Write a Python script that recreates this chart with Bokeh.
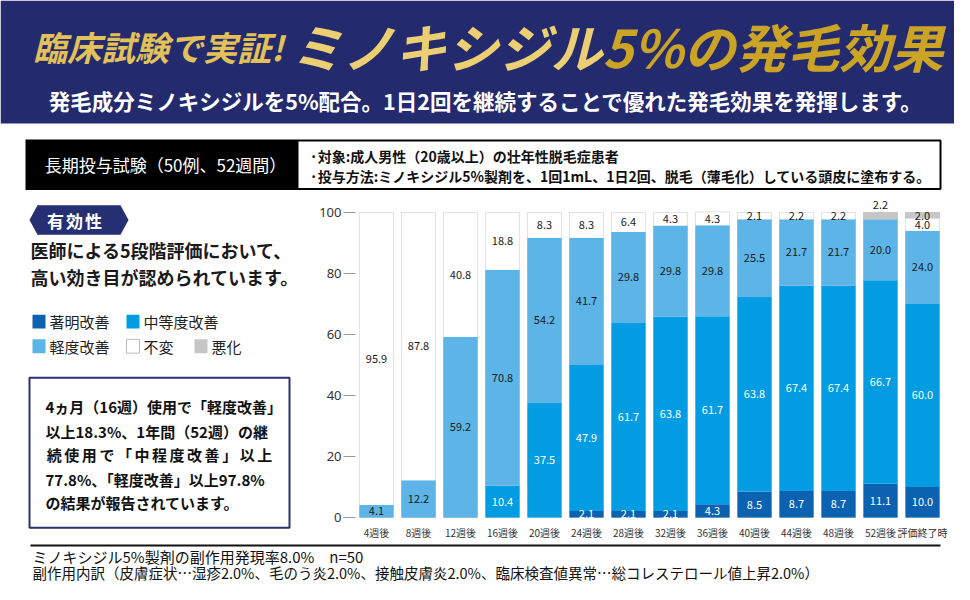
from bokeh.plotting import figure
from bokeh.layouts import column, row
from bokeh.models import Range1d, FactorRange, FixedTicker, Label
from bokeh.core.properties import value
from bokeh.embed import file_html
from bokeh.resources import INLINE

JP = "Noto Sans CJK JP"

# ---------------- data ----------------
categories = ["4週後", "8週後", "12週後", "16週後", "20週後", "24週後", "28週後",
              "32週後", "36週後", "40週後", "44週後", "48週後", "52週後", "評価終了時"]
marked = [0, 0, 0, 0, 0, 2.1, 2.1, 2.1, 4.3, 8.5, 8.7, 8.7, 11.1, 10.0]
moderate = [0, 0, 0, 10.4, 37.5, 47.9, 61.7, 63.8, 61.7, 63.8, 67.4, 67.4, 66.7, 60.0]
mild = [4.1, 12.2, 59.2, 70.8, 54.2, 41.7, 29.8, 29.8, 29.8, 25.5, 21.7, 21.7, 20.0, 24.0]
unchanged = [95.9, 87.8, 40.8, 18.8, 8.3, 8.3, 6.4, 4.3, 4.3, 2.1, 2.2, 2.2, 0, 4.0]
worse = [0, 0, 0, 0, 0, 0, 0, 0, 0, 0, 0, 0, 2.2, 2.0]
series_names = ["著明改善", "中等度改善", "軽度改善", "不変", "悪化"]
series_colors = ["#0b62b0", "#029ce2", "#5db5e7", "#ffffff", "#c6c6c6"]
y_ticks = [0, 20, 40, 60, 80, 100]

NAVY = "#232a6e"
W = 954
H_BOT = 190
M_BOT = 542
F_BOT = 584
PX_PER_UNIT = 3.094
Y0_PX = 521.7


def deco(w, h, x0, x1, y0, y1):
    f = figure(width=w, height=h, x_range=Range1d(x0, x1), y_range=Range1d(y1, y0),
               output_backend="svg", toolbar_location=None,
               x_axis_type=None, y_axis_type=None, min_border=0)
    f.outline_line_color = None
    f.background_fill_color = "white"
    f.border_fill_color = "white"
    return f


def txt(f, x, y, s, size, color="#1a1a1a", style="normal", align="left", font=JP):
    f.text(x=[x], y=[y], text=[s], text_font=value(font), text_font_size=size,
           text_font_style=style, text_color=color, text_align=align,
           text_baseline="middle")


# ---------------- header ----------------
hdr = deco(W, H_BOT, 0, W, 0, H_BOT)
hdr.quad(left=[0], right=[W], top=[0], bottom=[123], fill_color=NAVY, line_color=None)
txt(hdr, 283, 46, "臨床試験で実証!", "34px", "#e2c15a", "bold italic", "right")
txt(hdr, 290, 45, "ミノキシジル", "52px", "#ebcf72", "bold italic", "left")
txt(hdr, 602, 45, "5%の発毛効果", "52px", "#cba325", "bold italic", "left")
txt(hdr, 485, 100, "発毛成分ミノキシジルを5%配合。1日2回を継続することで優れた発毛効果を発揮します。",
    "21.5px", "white", "bold", "center")
# study boxes
hdr.quad(left=[25], right=[297], top=[139], bottom=[190], fill_color="black", line_color=None)
txt(hdr, 165, 164, "長期投与試験（50例、52週間）", "17px", "white", "normal", "center")
hdr.quad(left=[297], right=[940], top=[140], bottom=[188.5], fill_color="white",
         line_color="black", line_width=2)
txt(hdr, 309, 155, "·対象:成人男性（20歳以上）の壮年性脱毛症患者", "14px", "#111", "bold")
txt(hdr, 309, 175, "·投与方法:ミノキシジル5%製剤を、1回1mL、1日2回、脱毛（薄毛化）している頭皮に塗布する。",
    "14px", "#111", "bold")

# ---------------- left panel ----------------
left = deco(315, M_BOT - H_BOT, 0, 315, H_BOT, M_BOT)
left.patch(x=[29, 37, 120, 128, 120, 37], y=[220, 205, 205, 220, 235, 235],
           fill_color="#272f73", line_color=None)
for cx, ch in zip([55, 74, 93], "有効性"):
    txt(left, cx, 220, ch, "17px", "white", "bold", "center")
txt(left, 30, 250, "医師による5段階評価において、", "18px", "#1a1a1a", "bold")
txt(left, 30, 278, "高い効き目が認められています。", "18px", "#1a1a1a", "bold")
# legend
leg_pos = [(32, 323), (126, 323), (32, 348), (126, 348), (194, 348)]
for (lx0, ly0), name, col in zip(leg_pos, series_names, series_colors):
    left.quad(left=[lx0], right=[lx0 + 13], top=[ly0 - 7], bottom=[ly0 + 7],
              fill_color=col, line_color="#bbbbbb" if col == "#ffffff" else None)
    txt(left, lx0 + 17, ly0, name, "15px", "#222")
# summary box
left.quad(left=[29], right=[289], top=[380], bottom=[532], fill_color="white",
          line_color="#2b3172", line_width=2)
box_lines = ["4ヵ月（16週）使用で「軽度改善」", "以上18.3%、1年間（52週）の継",
             None, "77.8%、「軽度改善」以上97.8%", "の結果が報告されています。"]
box_y = [409, 434, 458, 483, 507]
for s, by in zip(box_lines, box_y):
    if s is not None:
        txt(left, 45, by, s, "15px", "#111", "bold")
spread = "続使用で「中程度改善」以上"
step = (273 - 45) / len(spread)
for k, ch in enumerate(spread):
    txt(left, 45 + step * (k + 0.5), box_y[2], ch, "15px", "#111", "bold", "center")

# ---------------- chart ----------------
# frame spans the full middle band; the value 0 sits at y=521.7
y_start = -(M_BOT - Y0_PX) / PX_PER_UNIT
y_end = (Y0_PX - H_BOT) / PX_PER_UNIT
p = figure(width=W - 315, height=M_BOT - H_BOT,
           x_range=FactorRange(factors=categories, range_padding=0),
           y_range=Range1d(y_start, y_end), output_backend="svg", toolbar_location=None,
           min_border_left=40, min_border_right=11, min_border_top=0, min_border_bottom=0)
p.outline_line_color = None
p.background_fill_color = "white"
p.border_fill_color = "white"
p.xgrid.grid_line_color = None
p.ygrid.grid_line_color = None

series = [marked, moderate, mild, unchanged, worse]
totals = [sum(v) for v in zip(*series)]
p.vbar(x=categories, top=totals, width=0.81, fill_color="white", line_color="#c8c8c8", line_width=1)
src = {"cat": categories}
for name, vals in zip(series_names, series):
    src[name] = vals
p.vbar_stack(series_names, x="cat", width=0.81, fill_color=series_colors, line_color=None, source=src)

lx, ly, lt, lc = [], [], [], []
for i, c in enumerate(categories):
    base = 0
    for s, vals in enumerate(series):
        v = vals[i]
        if v > 0:
            yc = base + v / 2
            if s == 4 and unchanged[i] == 0:
                yc = base + v + 2.4
            lx.append(c)
            ly.append(yc)
            lt.append(f"{v:.1f}")
            lc.append("white" if s < 2 else "#1a1a1a")
        base += v
p.text(x=lx, y=ly, text=lt, text_color=lc, text_font=value(JP), text_font_size="11px",
       text_align="center", text_baseline="middle")

p.yaxis.ticker = FixedTicker(ticks=y_ticks)
p.yaxis.axis_line_color = None
p.yaxis.major_tick_out = 12
p.yaxis.major_tick_in = 0
p.yaxis.minor_tick_line_color = None
p.yaxis.major_tick_line_color = "#999999"
p.yaxis.major_label_standoff = 2
p.yaxis.major_label_text_font = "Noto Sans"
p.yaxis.major_label_text_font_size = "13px"
p.yaxis.major_label_text_color = "#333333"

p.xaxis.axis_line_color = None
p.xaxis.major_tick_line_color = None
p.xaxis.major_tick_out = 0
p.xaxis.major_tick_in = 0
p.xaxis.major_label_standoff = -13
p.xaxis.major_label_text_font = JP
p.xaxis.major_label_text_font_size = "10px"
p.xaxis.major_label_text_color = "#333333"

p.add_layout(Label(x=-24, y=M_BOT - 201, x_units="screen", y_units="screen", text="(%)",
                   text_font=JP, text_font_size="8px", text_color="#444444",
                   text_align="center", text_baseline="middle"))

# ---------------- footer ----------------
ftr = deco(W, F_BOT - M_BOT, 0, W, M_BOT, F_BOT)
ftr.segment(x0=[30], y0=[545], x1=[940], y1=[545], line_color="#111111", line_width=2)
txt(ftr, 32, 556, "ミノキシジル5%製剤の副作用発現率8.0%　n=50", "15px", "#111")
txt(ftr, 32, 572, "副作用内訳（皮膚症状…湿疹2.0%、毛のう炎2.0%、接触皮膚炎2.0%、臨床検査値異常…総コレステロール値上昇2.0%）",
    "14.5px", "#111")

layout = column(hdr, row(left, p), ftr)
open("out.html", "w").write(file_html(layout, INLINE))
